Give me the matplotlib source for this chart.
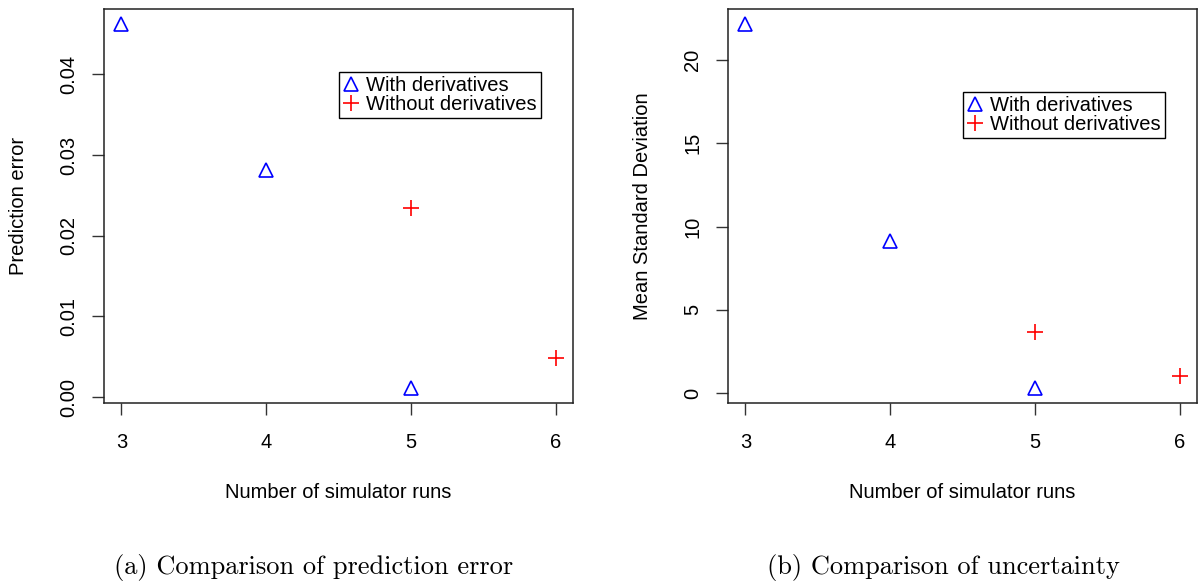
import matplotlib
matplotlib.use("Agg")
import matplotlib.pyplot as plt
from matplotlib.ticker import FormatStrFormatter

plt.rcParams['font.family'] = ['Liberation Sans', 'DejaVu Sans']

# データ
runs_with = [3, 4, 5]
runs_without = [5, 6]
err_with = [0.0463, 0.0281, 0.00108]
err_without = [0.0235, 0.00487]
sd_with = [22.18, 9.13, 0.28]
sd_without = [3.66, 1.02]
xticks = [3, 4, 5, 6]
err_ticks = [0.00, 0.01, 0.02, 0.03, 0.04]
sd_ticks = [0, 5, 10, 15, 20]

fig = plt.figure(figsize=(12, 5.83), dpi=100)
ax1 = fig.add_axes([0.0867, 0.3087, 0.391, 0.6758])
ax2 = fig.add_axes([0.6067, 0.3087, 0.391, 0.6758])

fs = 14.5

def draw_panel(ax, yw, yo, yticks, fmt, ylabel, leg_y):
    ax.plot(runs_with, yw, linestyle='none', marker='^', ms=9.5,
            mfc='none', mec='blue', mew=1.2, label='With derivatives')
    ax.plot(runs_without, yo, linestyle='none', marker='+', ms=11,
            mec='red', mew=1.2, label='Without derivatives')
    ax.margins(x=0.04, y=0.04)
    ax.set_xticks(xticks)
    ax.set_yticks(yticks)
    ax.yaxis.set_major_formatter(FormatStrFormatter(fmt))
    ax.tick_params(axis='both', direction='out', length=8.5, width=1.0,
                   labelsize=fs, color='#333333')
    ax.tick_params(axis='x', pad=13)
    ax.tick_params(axis='y', pad=10, labelrotation=90)
    for lab in ax.get_yticklabels():
        lab.set_va('center')
    for sp in ax.spines.values():
        sp.set_linewidth(1.1)
        sp.set_color('#222222')
    ax.set_xlabel('Number of simulator runs', fontsize=fs, va='center')
    ax.xaxis.set_label_coords(0.5, -0.228)
    ax.set_ylabel(ylabel, fontsize=fs, va='center')
    ax.yaxis.set_label_coords(-0.183, 0.5)
    leg = ax.legend(loc='upper left', bbox_to_anchor=(0.501, leg_y),
                    borderaxespad=0, fontsize=fs, fancybox=False,
                    edgecolor='black', framealpha=1, borderpad=0.2,
                    labelspacing=0.0, handlelength=0.8, handletextpad=0.35)
    leg.get_frame().set_linewidth(1.0)

draw_panel(ax1, err_with, err_without, err_ticks, '%.2f', 'Prediction error', 0.840)
draw_panel(ax2, sd_with, sd_without, sd_ticks, '%d', 'Mean Standard Deviation', 0.789)

# キャプション
fig.text(0.261, 0.026, '(a) Comparison of prediction error', family='cmr10',
         fontsize=19, ha='center', va='center')
fig.text(0.786, 0.026, '(b) Comparison of uncertainty', family='cmr10',
         fontsize=19, ha='center', va='center')

fig.savefig('out.png', dpi=100)
